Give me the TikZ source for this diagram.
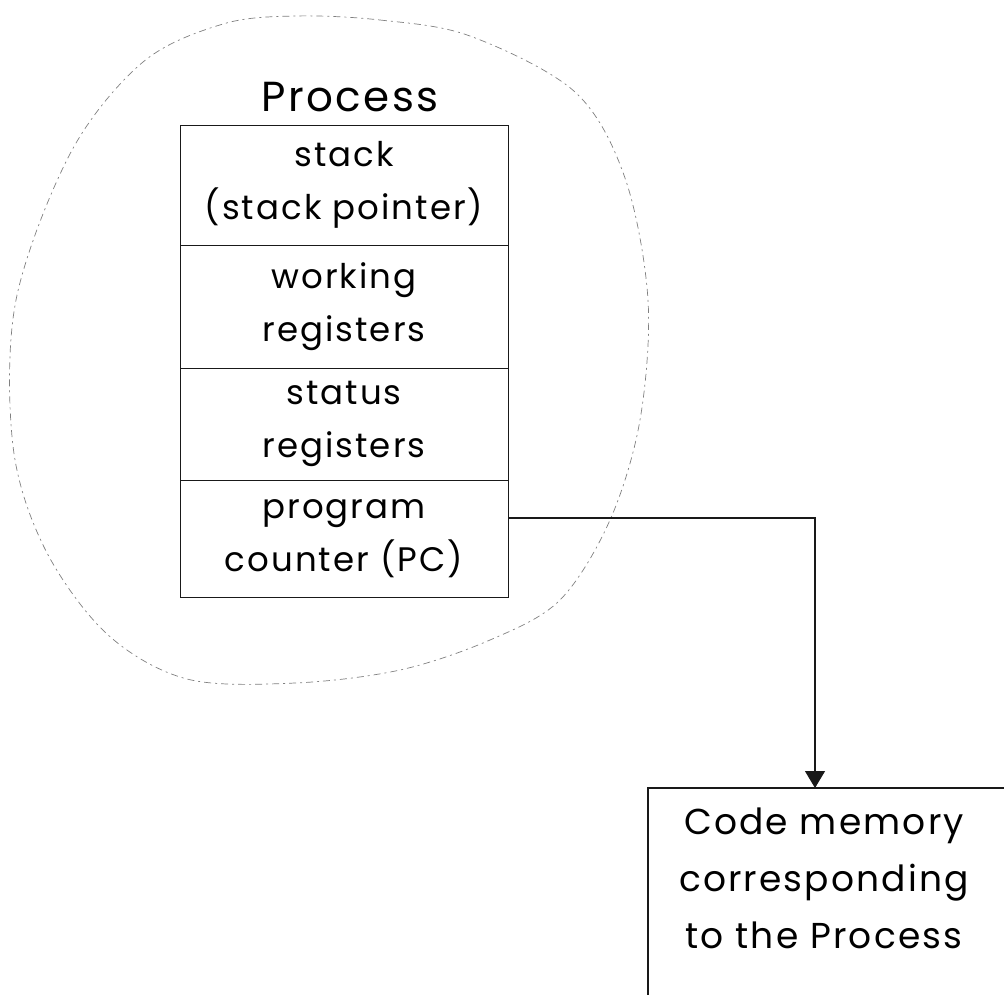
\documentclass[tikz,border=0pt]{standalone}
\usepackage{fontspec}
\setmainfont{Poppins}[LetterSpace=6.0]
\usetikzlibrary{arrows.meta}

\begin{document}
\begin{tikzpicture}[x=1pt,y=-1pt,
  blob/.style={draw=black!50, line width=0.7pt, dash pattern=on 7pt off 4pt on 2pt off 4pt},
  rowbox/.style={draw=black!90, line width=1pt, rectangle, minimum width=328pt,
    inner sep=0pt, align=center, font=\fontsize{34}{53}\selectfont},
  label/.style={font=\fontsize{36}{57}\selectfont, align=center, inner sep=0pt},
  title/.style={font=\fontsize{42}{50}\selectfont, inner sep=0pt},
  flow/.style={draw=black!90, line width=1.1pt, -{Triangle[width=20pt,length=17pt]}},
  memline/.style={draw=black!90, line width=1.1pt}]
\useasboundingbox (0,0) rectangle (1004,994);

% outline of the process
\draw[blob] plot[smooth cycle, tension=0.55] coordinates {
  (295,16) (380,20) (470,36) (575,92) (625,178) (648,300) (640,420)
  (610,520) (560,600) (490,640) (400,670) (295,683) (187,679)
  (107,634) (45,549) (13,446) (16,300) (71,152) (143,62) (223,24)};

% process title
\node[title] (proc) at (350,97) {Process};

% rows of the process context
\node[rowbox, minimum height=120pt] (stackrow)  at (344,185)   {stack\\(stack pointer)};
\node[rowbox, minimum height=123pt] (workrow)   at (344,306.5) {working\\registers};
\node[rowbox, minimum height=112pt] (statusrow) at (344,424)   {status\\registers};
\node[rowbox, minimum height=117pt] (pcrow)     at (344,538.5) {program\\counter (PC)};

% code memory block
\node[label] (codemem) at (824,878) {Code memory\\corresponding\\to the Process};
\draw[memline] (648,1000) -- (648,788) -- (1010,788);
\coordinate (memtop) at (815,788);
\coordinate (pcout) at (815,518);

% program counter points into code memory
\draw[flow] (pcrow.east |- pcout) -| (memtop);
\end{tikzpicture}
\end{document}
